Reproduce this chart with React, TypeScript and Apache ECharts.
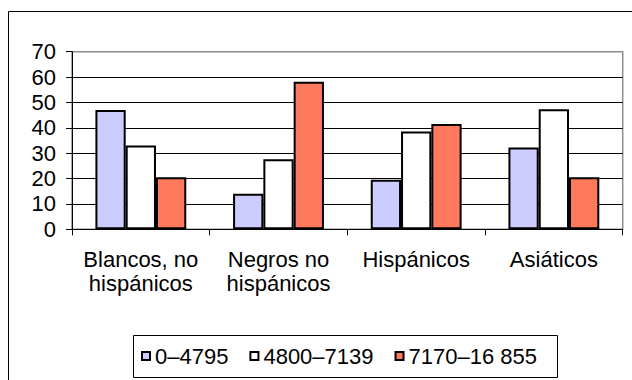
import React, { useEffect, useRef } from "react";
import * as echarts from "echarts";

const categories = ["Blancos, no\nhispánicos", "Negros no\nhispánicos", "Hispánicos", "Asiáticos"];
const seriesNames = ["0–4795", "4800–7139", "7170–16 855"];
const lowIncome = [47, 14, 19.5, 32.2];
const midIncome = [33, 27.6, 38.5, 47.3];
const highIncome = [20.5, 58.2, 41.5, 20.5];
const yTicks = [0, 10, 20, 30, 40, 50, 60, 70];

const seriesColors = ["#CCCCFF", "#FFFFFF", "#FF7A5C"];
const FONT = "'Liberation Sans', Arial, sans-serif";

export default function App() {
  const ref = useRef<HTMLDivElement>(null);

  useEffect(() => {
    if (!ref.current) return;
    const chart = echarts.init(ref.current, undefined, { renderer: "svg" });
    const values = [lowIncome, midIncome, highIncome];
    const splitColors = yTicks.map((t, i) => (i === yTicks.length - 1 ? "#8c8c8c" : "#000000"));

    chart.setOption({
      animation: false,
      backgroundColor: "#ffffff",
      textStyle: { fontFamily: FONT },
      grid: {
        left: 72,
        right: 9.3,
        top: 51.7,
        bottom: 150.7,
        show: true,
        borderColor: "#8c8c8c",
        borderWidth: 1.5,
        backgroundColor: "transparent",
      },
      legend: {
        left: 141,
        top: 345,
        itemWidth: 8,
        itemHeight: 8,
        itemGap: 21,
        icon: "rect",
        padding: 0,
        data: seriesNames,
        textStyle: { fontFamily: FONT, fontSize: 22, color: "#000" },
      },
      xAxis: {
        type: "category",
        data: categories,
        axisLine: { lineStyle: { color: "#000", width: 1 } },
        axisTick: { show: true, length: 6, lineStyle: { color: "#000" } },
        axisLabel: {
          fontFamily: FONT,
          fontSize: 22,
          color: "#000",
          margin: 18,
          lineHeight: 24,
          interval: 0,
        },
      },
      yAxis: {
        type: "value",
        min: 0,
        max: 70,
        interval: 10,
        axisLine: { show: true, lineStyle: { color: "#000", width: 1 } },
        axisTick: { show: true, length: 6, lineStyle: { color: "#000" } },
        axisLabel: { fontFamily: FONT, fontSize: 22, color: "#000", margin: 16 },
        splitLine: { show: true, lineStyle: { color: splitColors, width: 1 } },
      },
      series: seriesNames.map((name, i) => ({
        name,
        type: "bar",
        data: values[i],
        barGap: "0%",
        barCategoryGap: "34%",
        itemStyle: { color: seriesColors[i], borderColor: "#000", borderWidth: 2 },
      })),
      graphic: [
        {
          type: "rect",
          shape: { x: 8.5, y: 11.5, width: 700, height: 500 },
          style: { fill: "none", stroke: "#000", lineWidth: 1 },
          silent: true,
        },
        {
          type: "rect",
          shape: { x: 133.5, y: 335.5, width: 424, height: 42 },
          style: { fill: "none", stroke: "#000", lineWidth: 1 },
          silent: true,
        },
      ],
    });

    return () => chart.dispose();
  }, []);

  return (
    <div
      ref={ref}
      style={{ position: "fixed", left: 0, top: 0, width: 632, height: 380 }}
    />
  );
}
